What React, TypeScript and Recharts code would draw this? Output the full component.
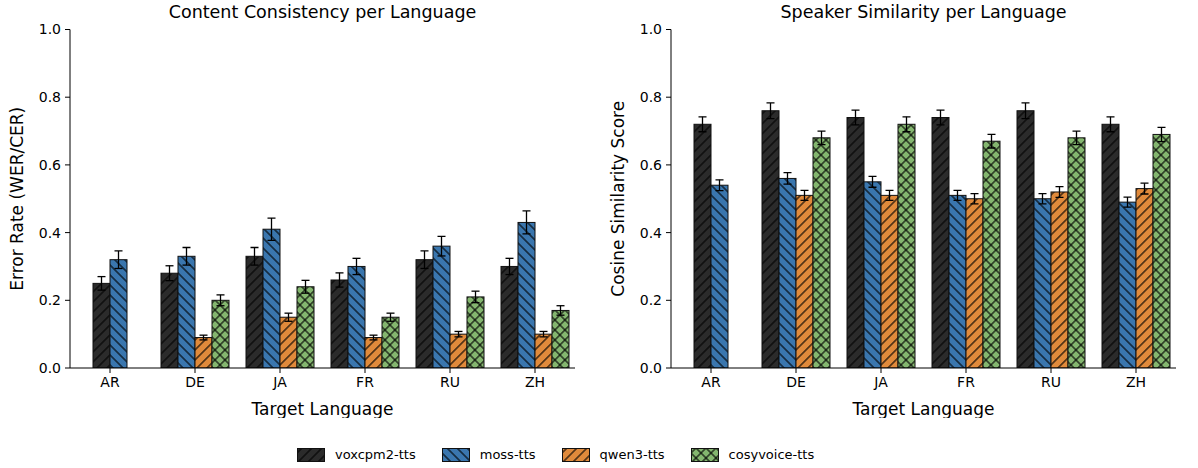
import React from "react";
import { BarChart, Bar, XAxis, YAxis } from "recharts";

const LANGS = ["AR", "DE", "JA", "FR", "RU", "ZH"];
const Y_TICKS = [0, 0.2, 0.4, 0.6, 0.8, 1.0];

// content consistency (WER/CER), lower is better
const CC_VOX = [0.25, 0.28, 0.33, 0.26, 0.32, 0.3];
const CC_VOX_ERR = [0.02, 0.022, 0.026, 0.021, 0.026, 0.024];
const CC_MOSS = [0.32, 0.33, 0.41, 0.3, 0.36, 0.43];
const CC_MOSS_ERR = [0.026, 0.026, 0.033, 0.024, 0.029, 0.034];
const CC_QWEN = [null, 0.09, 0.15, 0.09, 0.1, 0.1];
const CC_QWEN_ERR = [null, 0.007, 0.012, 0.007, 0.008, 0.008];
const CC_COSY = [null, 0.2, 0.24, 0.15, 0.21, 0.17];
const CC_COSY_ERR = [null, 0.016, 0.019, 0.012, 0.017, 0.014];

// speaker similarity (cosine)
const SS_VOX = [0.72, 0.76, 0.74, 0.74, 0.76, 0.72];
const SS_VOX_ERR = [0.022, 0.023, 0.022, 0.022, 0.023, 0.022];
const SS_MOSS = [0.54, 0.56, 0.55, 0.51, 0.5, 0.49];
const SS_MOSS_ERR = [0.016, 0.017, 0.016, 0.015, 0.015, 0.015];
const SS_QWEN = [null, 0.51, 0.51, 0.5, 0.52, 0.53];
const SS_QWEN_ERR = [null, 0.015, 0.015, 0.015, 0.016, 0.016];
const SS_COSY = [null, 0.68, 0.72, 0.67, 0.68, 0.69];
const SS_COSY_ERR = [null, 0.02, 0.022, 0.02, 0.02, 0.021];

const SERIES = [
  { key: "vox", name: "voxcpm2-tts", color: "#2b2b2b", hatch: "fwd" },
  { key: "moss", name: "moss-tts", color: "#3a76ae", hatch: "back" },
  { key: "qwen", name: "qwen3-tts", color: "#e08a3b", hatch: "fwd" },
  { key: "cosy", name: "cosyvoice-tts", color: "#84b66f", hatch: "cross" },
];

const FONT = "'DejaVu Sans', sans-serif";

function buildRows(cols: (number | null)[][]) {
  return LANGS.map((lang, i) => ({
    lang,
    vox: cols[0][i], voxErr: cols[1][i],
    moss: cols[2][i], mossErr: cols[3][i],
    qwen: cols[4][i], qwenErr: cols[5][i],
    cosy: cols[6][i], cosyErr: cols[7][i],
  }));
}

const CC_ROWS = buildRows([CC_VOX, CC_VOX_ERR, CC_MOSS, CC_MOSS_ERR, CC_QWEN, CC_QWEN_ERR, CC_COSY, CC_COSY_ERR]);
const SS_ROWS = buildRows([SS_VOX, SS_VOX_ERR, SS_MOSS, SS_MOSS_ERR, SS_QWEN, SS_QWEN_ERR, SS_COSY, SS_COSY_ERR]);

function hatchDefs(prefix: string) {
  const s = 7.07;
  return (
    <defs>
      {SERIES.map((sr) => (
        <pattern
          key={sr.key}
          id={`${prefix}-${sr.key}`}
          patternUnits="userSpaceOnUse"
          width={s}
          height={s}
          patternTransform={`rotate(${sr.hatch === "back" ? -45 : 45})`}
        >
          <rect width={s} height={s} fill={sr.color} />
          <line x1={s / 2} y1={0} x2={s / 2} y2={s} stroke="#000" strokeWidth={1.1} />
          {sr.hatch === "cross" && (
            <line x1={0} y1={s / 2} x2={s} y2={s / 2} stroke="#000" strokeWidth={1.1} />
          )}
        </pattern>
      ))}
    </defs>
  );
}

// groups with missing models (AR) get their bars re-centred on the tick,
// like matplotlib does when only two bars exist; error bar drawn from the
// bar's own px-per-unit so it stays on the library's y scale
function makeShape(key: string) {
  return (props: any) => {
    const { x, y, width, height, fill, payload } = props;
    const v = payload[key];
    if (v == null || !height) return <g />;
    const present = SERIES.filter((s) => payload[s.key] != null).length;
    const dx = ((SERIES.length - present) / 2) * width;
    const bx = x + dx;
    const err = payload[`${key}Err`];
    const pxPer = height / v;
    const cx = bx + width / 2;
    const e = err ? err * pxPer : 0;
    return (
      <g>
        <rect x={bx} y={y} width={width} height={height} fill={fill} stroke="#111" strokeWidth={1} />
        {err ? (
          <g stroke="#000" strokeWidth={1.3}>
            <line x1={cx} y1={y - e} x2={cx} y2={y + e} />
            <line x1={cx - 4} y1={y - e} x2={cx + 4} y2={y - e} />
            <line x1={cx - 4} y1={y + e} x2={cx + 4} y2={y + e} />
          </g>
        ) : null}
      </g>
    );
  };
}

function Panel({ title, yLabel, rows, left, prefix }: any) {
  const tick = { fill: "#000", fontSize: 14, fontFamily: FONT };
  return (
    <div style={{ position: "absolute", left, top: 0, width: 600, height: 420 }}>
      <div
        style={{
          position: "absolute", left: 70, width: 505, top: 2, textAlign: "center",
          fontSize: 17.5, fontFamily: FONT, color: "#000",
        }}
      >
        {title}
      </div>
      <BarChart
        width={600}
        height={418}
        data={rows}
        margin={{ top: 29.5, right: 25, bottom: 0, left: 20 }}
        barGap={0}
        barCategoryGap="10%"
      >
        {hatchDefs(prefix)}
        <XAxis
          dataKey="lang"
          height={50}
          padding={{ left: -2.5, right: -2.5 }}
          tick={tick}
          tickSize={5}
          tickMargin={4}
          stroke="#000"
          tickLine={{ stroke: "#000" }}
          label={{ value: "Target Language", position: "insideBottom", offset: 3, fill: "#000", fontSize: 17, fontFamily: FONT }}
        />
        <YAxis
          domain={[0, 1]}
          ticks={Y_TICKS}
          width={50}
          tick={tick}
          tickSize={5}
          tickMargin={4}
          stroke="#000"
          tickLine={{ stroke: "#000" }}
          tickFormatter={(v: number) => v.toFixed(1)}
          allowDataOverflow
          label={{
            value: yLabel, angle: -90, position: "insideLeft", offset: -3,
            fill: "#000", fontSize: 17, fontFamily: FONT, style: { textAnchor: "middle" },
          }}
        />
        {SERIES.map((sr) => (
          <Bar
            key={sr.key}
            dataKey={sr.key}
            name={sr.name}
            fill={`url(#${prefix}-${sr.key})`}
            shape={makeShape(sr.key)}
            isAnimationActive={false}
          />
        ))}
      </BarChart>
    </div>
  );
}

function LegendRow() {
  return (
    <div
      style={{
        position: "absolute", left: 297, top: 447, display: "flex", alignItems: "center",
        gap: 26, fontFamily: FONT, fontSize: 13, color: "#000",
      }}
    >
      {SERIES.map((sr) => (
        <div key={sr.key} style={{ display: "flex", alignItems: "center", gap: 10 }}>
          <svg width={28} height={14} style={{ display: "block" }}>
            {hatchDefs(`lg-${sr.key}`)}
            <rect x={0.5} y={0.5} width={27} height={13} fill={`url(#lg-${sr.key}-${sr.key})`} stroke="#111" />
          </svg>
          <span>{sr.name}</span>
        </div>
      ))}
    </div>
  );
}

export default function App() {
  return (
    <div style={{ position: "absolute", left: 0, top: 0, width: 1198, height: 468, background: "#fff", overflow: "hidden" }}>
      <Panel title="Content Consistency per Language" yLabel="Error Rate (WER/CER)" rows={CC_ROWS} left={0} prefix="cc" />
      <Panel title="Speaker Similarity per Language" yLabel="Cosine Similarity Score" rows={SS_ROWS} left={601} prefix="ss" />
      <LegendRow />
    </div>
  );
}
